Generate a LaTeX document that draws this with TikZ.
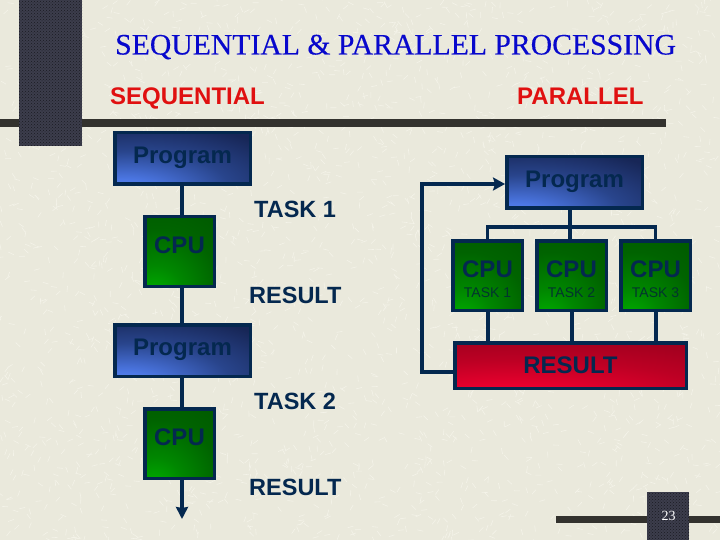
\documentclass[tikz,border=0pt]{standalone}
\usepackage{fontspec}
\setmainfont{Liberation Sans}
\newfontfamily\titlefont[FakeBold=0.3]{Liberation Serif}
\newfontfamily\pagefont{Liberation Serif}
\usetikzlibrary{arrows.meta,patterns}
\definecolor{paper}{HTML}{EAE9DC}
\definecolor{fleck}{HTML}{F4F3E9}
\definecolor{navy}{HTML}{04284F}
\definecolor{taskcol}{HTML}{03342E}
\definecolor{barcol}{HTML}{33322E}
\definecolor{blockcol}{HTML}{3C3D4C}
\definecolor{headred}{HTML}{E01010}
\definecolor{titleblue}{HTML}{0808CC}
\pgfdeclareradialshading{progfill}{\pgfpoint{-25bp}{-38bp}}{rgb(0bp)=(0.37,0.56,1); rgb(14bp)=(0.30,0.47,0.90); rgb(36bp)=(0.16,0.27,0.55); rgb(58bp)=(0.09,0.15,0.34); rgb(150bp)=(0.09,0.15,0.34)}
\pgfdeclareradialshading{cpufill}{\pgfpoint{-20bp}{-35bp}}{rgb(0bp)=(0,0.72,0); rgb(20bp)=(0,0.53,0); rgb(42bp)=(0,0.39,0); rgb(65bp)=(0,0.34,0); rgb(150bp)=(0,0.34,0)}
\pgfdeclareradialshading{resfill}{\pgfpoint{-15bp}{-50bp}}{rgb(0bp)=(1,0,0.2); rgb(20bp)=(0.92,0,0.18); rgb(42bp)=(0.74,0,0.14); rgb(70bp)=(0.58,0,0.11); rgb(150bp)=(0.58,0,0.11)}
\newcommand{\bigtxt}{\fontsize{24}{24}\selectfont\bfseries}
\tikzset{
  basebox/.style={draw=navy, line width=3.5pt, inner sep=0pt, text=navy, font=\bigtxt},
  progbox/.style={basebox, shading=progfill, minimum width=135.5pt, minimum height=51.5pt, text height=18pt, text depth=8pt},
  cpubox/.style={basebox, shading=cpufill, minimum width=69.5pt, minimum height=69.5pt},
  resbox/.style={basebox, shading=resfill, minimum width=231.5pt, minimum height=45.5pt},
  freetxt/.style={anchor=base west, inner sep=0pt, text=navy, font=\fontsize{23.5}{24}\selectfont\bfseries},
  headtxt/.style={anchor=base west, inner sep=0pt, text=headred, font=\bigtxt},
  link/.style={draw=navy, line width=4pt},
  bar/.style={fill=barcol},
  block/.style={preaction={fill=blockcol}, pattern=crosshatch dots, pattern color=black!55!blockcol}
}
\begin{document}
\begin{tikzpicture}[x=1pt, y=-1pt]
  \useasboundingbox (0,0) rectangle (720,540);
  \fill[paper] (0,0) rectangle (720,540);
  \pgfmathsetseed{23}
  \foreach \i in {1,...,2600}{
    \pgfmathsetmacro{\px}{rnd*720}
    \pgfmathsetmacro{\py}{rnd*540}
    \pgfmathsetmacro{\pa}{rnd*360}
    \draw[fleck, line width=0.6pt] (\px,\py) -- ++(\pa:6);
  }
  \fill[bar] (0,119) rectangle (666,127);
  \fill[bar] (556,516) rectangle (720,523);
  \fill[block] (19,0) rectangle (82,146);
  \fill[block] (647,492) rectangle (689,540);

  \node[anchor=base west, inner sep=0pt, text=titleblue, font=\titlefont\fontsize{29.7}{30}\selectfont] (title) at (115,54.5) {SEQUENTIAL \& PARALLEL PROCESSING};
  \node[headtxt] (headseq) at (110,105) {SEQUENTIAL};
  \node[headtxt] (headpar) at (517,105) {PARALLEL};
  \node[text=white, inner sep=0pt, font=\pagefont\fontsize{14}{14}\selectfont] (pagenum) at (668.5,516) {23};

  \node[progbox] (progA) at (182.5,158.5) {Program};
  \node[cpubox, text height=17pt, text depth=14pt] (cpuA) at (179.5,251.5) {CPU};
  \node[progbox] (progB) at (182.5,350.5) {Program};
  \node[cpubox, text height=17pt, text depth=14pt] (cpuB) at (179.5,443.5) {CPU};
  \node[freetxt] (taskA) at (254,218) {TASK 1};
  \node[freetxt] (resA) at (249,303) {RESULT};
  \node[freetxt] (taskB) at (254,409) {TASK 2};
  \node[freetxt] (resB) at (249,495) {RESULT};
  \coordinate (stopB) at (182,519);
  \draw[link] (progA.south -| cpuA.north) ++(2.5,0) coordinate (topA) -- (topA |- cpuA.north);
  \draw[link] (cpuA.south) ++(2.5,0) coordinate (botA) -- (botA |- progB.north);
  \draw[link] (progB.south -| cpuB.north) ++(2.5,0) coordinate (topB) -- (topB |- cpuB.north);
  \draw[link, -{Stealth[length=12pt, width=12pt, inset=1pt]}] (stopB |- cpuB.south) -- (stopB);

  \node[progbox] (progC) at (574.5,182.5) {Program};
  \foreach \name/\xpos/\txt in {cpuC/487.5/TASK 1, cpuD/571.5/TASK 2, cpuE/655.5/TASK 3}{
    \node[cpubox, align=center] (\name) at (\xpos,275.5) {\rule{0pt}{25pt}CPU\\[-4pt]{\mdseries\color{taskcol}\fontsize{14}{14}\selectfont\txt}};
  }
  \node[resbox] (resC) at (570.5,365.5) {RESULT};
  \coordinate (busL) at (cpuC.north |- 0,227);
  \coordinate (busR) at (cpuE.north |- 0,227);
  \coordinate (turn) at (422,184);
  \draw[link, line width=3.5pt] (cpuC.north) -- (busL) -- (busR) -- (cpuE.north);
  \draw[link] (progC.south -| cpuD.north) ++(-1.5,0) coordinate (topD) -- (topD |- cpuD.north);
  \foreach \name in {cpuC,cpuD,cpuE}{
    \draw[link] (\name.south) -- (\name.south |- resC.north);
  }
  \draw[link, line width=4.5pt, -{Stealth[length=12pt, width=13pt, inset=2pt]}] ([yshift=-6.5pt]resC.west) -| (turn) -- ([yshift=-1.5pt]progC.west);
\end{tikzpicture}
\end{document}
